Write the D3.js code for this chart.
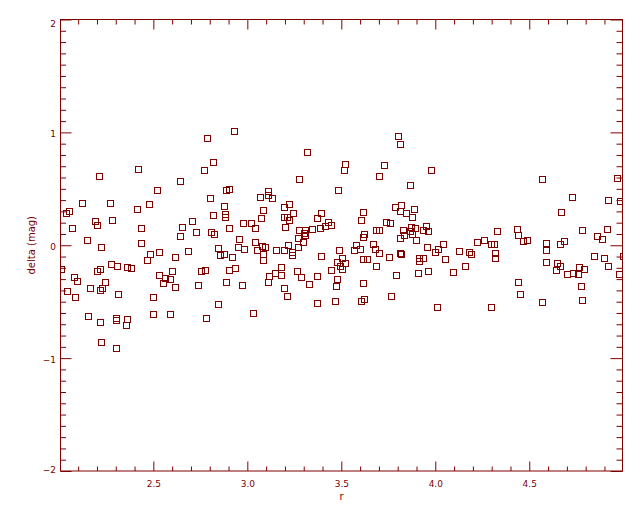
<!DOCTYPE html>
<html>
<head>
<meta charset="utf-8">
<script src="https://cdn.jsdelivr.net/npm/d3@7"></script>
<style>
html,body{margin:0;padding:0;background:#fff;}
text{font-family:"DejaVu Sans",sans-serif;fill:#800000;}
</style>
</head>
<body>
<script>
const rVals = [
2.420,2.771,2.213,2.644,2.521,2.122,2.271,2.479,2.415,2.053,2.037,2.191,2.202,2.282,2.707,2.069,2.436,2.654,2.729,2.644,
2.149,2.436,2.223,2.686,2.532,2.484,2.617,2.468,2.277,2.309,2.362,2.383,2.218,2.202,2.006,2.601,2.752,2.532,2.564,2.590,
2.080,2.096,2.245,2.553,2.739,2.617,2.165,2.229,2.214,2.043,2.314,2.085,2.500,2.154,2.500,2.590,2.303,2.303,2.362,2.218,
2.356,2.223,2.303,
2.931,2.787,3.319,2.819,3.521,3.516,3.277,2.888,2.904,3.484,3.112,3.112,3.069,3.133,2.803,3.223,3.197,2.878,3.085,3.245,
2.883,2.883,2.819,3.394,3.197,3.213,3.223,3.074,3.372,2.979,3.021,3.431,3.447,3.415,3.043,3.202,2.904,3.388,3.346,3.277,
3.309,3.303,3.309,2.809,2.824,2.957,3.271,3.298,2.846,2.952,2.984,3.043,3.080,3.096,3.053,3.154,3.197,3.218,3.239,3.239,
3.271,3.489,2.856,2.878,2.920,3.085,3.085,3.394,3.505,3.479,3.521,3.495,3.505,2.936,2.904,2.777,3.181,3.146,3.181,3.117,
3.266,3.287,3.372,3.447,3.479,3.473,2.888,2.973,3.112,3.330,3.197,3.213,2.846,3.372,3.468,3.032,2.782,
3.803,3.814,3.729,3.979,3.702,3.867,3.787,3.819,3.814,3.846,3.888,3.878,3.617,3.606,3.739,3.761,3.686,3.702,3.830,3.835,
3.814,3.872,3.894,3.867,3.878,3.952,3.936,3.963,3.899,3.622,3.617,3.580,3.569,3.601,3.670,3.681,3.702,3.617,3.638,3.755,
3.814,3.819,3.686,3.793,3.915,3.915,3.936,3.910,3.963,3.957,4.016,4.000,4.043,4.053,4.096,4.128,4.160,4.181,4.191,4.223,
4.261,3.617,3.766,3.606,3.622,4.011,
4.569,4.968,4.729,4.920,4.984,4.670,4.330,4.436,4.441,4.782,4.915,4.862,4.888,4.299,4.314,4.468,4.489,4.590,4.590,4.686,
4.665,4.319,4.319,4.846,4.899,4.996,4.590,4.649,4.665,4.644,4.920,4.766,4.793,4.702,4.734,4.761,4.979,4.441,4.452,4.777,
4.569,4.782,4.298
];
const deltaVals = [
0.673,0.664,0.611,0.567,0.487,0.372,0.372,0.363,0.319,0.301,0.283,0.213,0.177,0.221,0.213,0.151,0.151,0.159,0.115,0.080,
0.044,0.018,-0.018,-0.053,-0.062,-0.080,-0.106,-0.133,-0.168,-0.186,-0.195,-0.204,-0.213,-0.230,-0.213,-0.230,-0.230,-0.266,-0.292,-0.301,
-0.283,-0.319,-0.328,-0.337,-0.354,-0.372,-0.381,-0.381,-0.399,-0.407,-0.434,-0.461,-0.461,-0.629,-0.611,-0.611,-0.648,-0.666,-0.655,-0.682,
-0.709,-0.859,-0.912,
1.010,0.948,0.824,0.735,0.717,0.670,0.585,0.487,0.496,0.487,0.478,0.443,0.425,0.416,0.416,0.363,0.337,0.345,0.310,0.283,
0.275,0.253,0.266,0.283,0.248,0.248,0.221,0.239,0.239,0.195,0.195,0.204,0.177,0.168,0.151,0.159,0.151,0.151,0.142,0.133,
0.133,0.106,0.089,0.115,0.097,0.053,0.062,0.027,-0.027,-0.018,-0.035,0.027,-0.009,-0.018,-0.044,-0.044,-0.044,0.000,-0.062,-0.089,
-0.018,-0.044,-0.089,-0.080,-0.106,-0.080,-0.133,-0.097,-0.115,-0.151,-0.159,-0.186,-0.213,-0.204,-0.221,-0.221,-0.195,-0.248,-0.266,-0.275,
-0.230,-0.283,-0.275,-0.221,-0.301,-0.363,-0.328,-0.354,-0.328,-0.345,-0.381,-0.452,-0.523,-0.514,-0.496,-0.602,-0.647,
0.965,0.895,0.709,0.664,0.611,0.531,0.337,0.354,0.301,0.283,0.319,0.248,0.292,0.221,0.204,0.195,0.133,0.133,0.133,0.089,
0.062,0.159,0.151,0.124,0.097,0.168,0.133,0.124,0.044,0.097,0.071,0.000,-0.044,-0.035,0.009,-0.035,-0.071,-0.124,-0.124,-0.106,
-0.071,-0.080,-0.186,-0.266,-0.115,-0.142,-0.115,-0.248,-0.230,-0.018,-0.035,-0.062,0.009,-0.124,-0.239,-0.053,-0.186,-0.062,-0.080,0.027,
0.044,-0.337,-0.452,-0.496,-0.478,-0.549,
0.585,0.593,0.425,0.399,0.390,0.292,0.124,0.142,0.089,0.133,0.142,0.080,0.053,0.009,0.009,0.035,0.044,0.018,-0.044,0.035,
0.009,-0.071,-0.115,-0.097,-0.115,-0.097,-0.151,-0.159,-0.186,-0.221,-0.186,-0.195,-0.213,-0.257,-0.248,-0.257,-0.257,-0.328,-0.434,-0.363,
-0.505,-0.487,-0.546
];
const xDomain = [2.006, 4.996];
const yDomain = [-2, 2];
const xMajorTicks = [2.5, 3.0, 3.5, 4.0, 4.5];
const xTickLabels = ["2.5", "3.0", "3.5", "4.0", "4.5"];
const yMajorTicks = [-2, -1, 0, 1, 2];
const yTickLabels = ["\u22122", "\u22121", "0", "1", "2"];
const xTitle = "r";
const yTitle = "delta (mag)";

const W = 640, H = 512;
const L = 60.5, R = 622.5, T = 19.5, B = 471;
const col = "#800000";

const svg = d3.select("body").append("svg").attr("width", W).attr("height", H);
svg.append("rect").attr("width", W).attr("height", H).attr("fill", "#fff");

const x = d3.scaleLinear().domain(xDomain).range([L, R]);
const y = d3.scaleLinear().domain(yDomain).range([B, T]);

const xMinor = d3.range(21, 50).map(v => v / 10).filter(v => v >= xDomain[0] && v <= xDomain[1] && !xMajorTicks.some(m => Math.abs(m - v) < 1e-9));
const yMinor = d3.range(-20, 21).map(v => v / 10).filter(v => !yMajorTicks.some(m => Math.abs(m - v) < 1e-9));

function styleAxis(g) {
  g.select(".domain").remove();
  g.selectAll("line").attr("stroke", col).attr("stroke-width", 1);
  g.selectAll("text").attr("fill", col).style("font-family", "DejaVu Sans, sans-serif").style("font-size", "9px");
}

// bottom
svg.append("g").attr("transform", `translate(0,${B})`)
  .call(d3.axisBottom(x).tickValues(xMajorTicks).tickFormat((d, i) => xTickLabels[i]).tickSizeInner(-9.5).tickSizeOuter(0).tickPadding(9.5))
  .call(styleAxis);
svg.append("g").attr("transform", `translate(0,${B})`)
  .call(d3.axisBottom(x).tickValues(xMinor).tickFormat("").tickSizeInner(-4.5).tickSizeOuter(0))
  .call(styleAxis);
// top
svg.append("g").attr("transform", `translate(0,${T})`)
  .call(d3.axisTop(x).tickValues(xMajorTicks).tickFormat("").tickSizeInner(-10).tickSizeOuter(0))
  .call(styleAxis);
svg.append("g").attr("transform", `translate(0,${T})`)
  .call(d3.axisTop(x).tickValues(xMinor).tickFormat("").tickSizeInner(-5).tickSizeOuter(0))
  .call(styleAxis);
// left
const gl = svg.append("g").attr("transform", `translate(${L},0)`)
  .call(d3.axisLeft(y).tickValues(yMajorTicks).tickFormat((d, i) => yTickLabels[i]).tickSizeInner(-11).tickSizeOuter(0).tickPadding(4.5))
  .call(styleAxis);
gl.selectAll("text").attr("dy", null).attr("dominant-baseline", "central").attr("y", d => d === 2 ? 3.5 : (d === -2 ? -2 : 1.5));
svg.append("g").attr("transform", `translate(${L},0)`)
  .call(d3.axisLeft(y).tickValues(yMinor).tickFormat("").tickSizeInner(-5.5).tickSizeOuter(0))
  .call(styleAxis);
// right
svg.append("g").attr("transform", `translate(${R},0)`)
  .call(d3.axisRight(y).tickValues(yMajorTicks).tickFormat("").tickSizeInner(-12).tickSizeOuter(0))
  .call(styleAxis);
svg.append("g").attr("transform", `translate(${R},0)`)
  .call(d3.axisRight(y).tickValues(yMinor).tickFormat("").tickSizeInner(-6).tickSizeOuter(0))
  .call(styleAxis);

// frame
svg.append("rect").attr("x", L).attr("y", T).attr("width", R - L).attr("height", B - T)
  .attr("fill", "none").attr("stroke", col).attr("stroke-width", 1);

// clip
svg.append("clipPath").attr("id", "clip").append("rect")
  .attr("x", L).attr("y", T).attr("width", R - L).attr("height", B - T);

const pts = rVals.map((r, i) => ({ r: r, d: deltaVals[i] }));
svg.append("g").attr("clip-path", "url(#clip)")
  .selectAll("rect").data(pts).enter().append("rect")
  .attr("x", p => Math.round(x(p.r)) - 2.5)
  .attr("y", p => Math.round(y(p.d)) - 2.5)
  .attr("width", 6).attr("height", 6)
  .attr("fill", "none").attr("stroke", col).attr("stroke-width", 1);

// titles
svg.append("text").attr("x", (L + R) / 2).attr("y", 500)
  .attr("text-anchor", "middle").style("font-size", "10px").text(xTitle);
svg.append("text").attr("transform", `translate(35,${(T + B) / 2}) rotate(-90)`)
  .attr("text-anchor", "middle").style("font-size", "10px").text(yTitle);
</script>
</body>
</html>
